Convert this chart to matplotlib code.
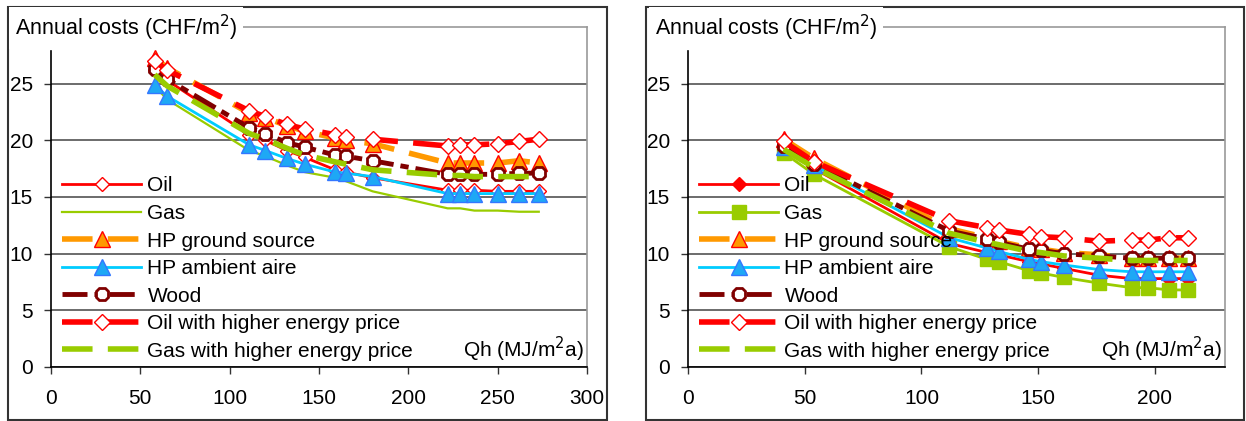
import matplotlib
matplotlib.use('Agg')
import matplotlib.pyplot as plt
from matplotlib.patches import Rectangle

plt.rcParams['font.family'] = ['Liberation Sans', 'DejaVu Sans']
plt.rcParams['font.size'] = 15
plt.rcParams['lines.scale_dashes'] = False

# left chart: existing buildings
qh_a = [58, 65, 111, 120, 132, 142, 159, 165, 180, 222, 229, 237, 250, 262, 273]
oil_a = [26.2, 25.3, 20.5, 20.0, 19.1, 18.5, 17.4, 17.2, 16.7, 15.6, 15.6, 15.6, 15.5, 15.5, 15.5]
gas_a = [24.8, 23.6, 19.1, 18.6, 17.8, 17.2, 16.7, 16.4, 15.5, 14.0, 14.0, 13.8, 13.8, 13.7, 13.7]
hp_ground_a = [27.3, 26.4, 22.4, 22.0, 21.3, 20.8, 20.2, 20.0, 19.7, 18.0, 18.0, 18.0, 18.0, 18.2, 18.0]
hp_air_a = [24.9, 23.9, 19.6, 19.1, 18.4, 17.9, 17.2, 17.1, 16.8, 15.3, 15.3, 15.3, 15.3, 15.3, 15.3]
wood_a = [26.3, 25.4, 21.1, 20.6, 19.8, 19.4, 18.7, 18.6, 18.2, 17.0, 17.0, 17.0, 17.0, 17.1, 17.1]
oil_high_a = [27.0, 26.2, 22.6, 22.1, 21.4, 21.0, 20.5, 20.3, 20.1, 19.5, 19.6, 19.6, 19.7, 19.9, 20.1]
gas_high_a = [25.8, 24.8, 20.6, 20.1, 19.3, 18.7, 18.1, 17.9, 17.4, 16.9, 16.9, 16.8, 16.8, 16.8, 16.8]

# right chart: new buildings
qh_b = [41, 54, 112, 128, 133, 146, 151, 161, 176, 190, 197, 206, 214]
oil_b = [19.3, 17.5, 10.9, 10.1, 9.9, 9.3, 9.1, 8.7, 8.1, 7.8, 7.8, 7.8, 7.8]
gas_b = [18.9, 17.0, 10.6, 9.5, 9.3, 8.5, 8.3, 7.9, 7.4, 7.0, 7.0, 6.8, 6.8]
hp_ground_b = [20.1, 18.4, 12.2, 11.4, 11.1, 10.5, 10.4, 10.1, 9.9, 9.6, 9.6, 9.6, 9.6]
hp_air_b = [19.4, 17.8, 11.4, 10.5, 10.2, 9.5, 9.3, 9.0, 8.6, 8.4, 8.4, 8.4, 8.4]
wood_b = [19.5, 17.9, 12.0, 11.3, 11.0, 10.4, 10.3, 10.0, 9.8, 9.6, 9.6, 9.6, 9.6]
oil_high_b = [19.9, 18.1, 12.9, 12.3, 12.1, 11.7, 11.5, 11.4, 11.1, 11.2, 11.2, 11.4, 11.4]
gas_high_b = [19.2, 17.6, 11.8, 11.0, 10.8, 10.2, 10.1, 9.8, 9.6, 9.4, 9.4, 9.4, 9.4]

labels = ['Oil', 'Gas', 'HP ground source', 'HP ambient aire', 'Wood',
          'Oil with higher energy price', 'Gas with higher energy price']

RED = '#FF0000'
GREEN = '#99CC00'
ORANGE = '#FF9900'
CYAN = '#00CCFF'
BROWN = '#800000'

W, H = 1246, 421


def px_rect(x0, y0, x1, y1):
    # pixel box (top-left origin) -> figure fraction
    return [x0 / W, 1 - y1 / H, (x1 - x0) / W, (y1 - y0) / H]


def draw_panel(fig, frame, area, xs, series, xmax, new):
    fig.add_artist(Rectangle((frame[0], frame[1]), frame[2], frame[3],
                             transform=fig.transFigure, fill=False,
                             ec='#333333', lw=1.5))
    ax = fig.add_axes(area)
    oil, gas, hpg, hpa, wood, oilh, gash = series

    if new:
        ax.plot(xs, oil, color=RED, lw=2, marker='D', ms=7, mfc=RED, mec=RED)
        ax.plot(xs, gas, color=GREEN, lw=2, marker='s', ms=10, mfc=GREEN, mec=GREEN)
    else:
        ax.plot(xs, oil, color=RED, lw=2, marker='D', ms=7, mfc='white', mec=RED, mew=1)
        ax.plot(xs, gas, color=GREEN, lw=1.6)
    ax.plot(xs, hpg, color=ORANGE, lw=4, dashes=(22, 11),
            marker='^', ms=12, mfc=ORANGE, mec=RED, mew=1)
    ax.plot(xs, hpa, color=CYAN, lw=2, marker='^', ms=12,
            mfc='#1EA8F5', mec='#3377FF', mew=1)
    ax.plot(xs, wood, color=BROWN, lw=3.5, dashes=(18, 5, 6, 5),
            marker='8', ms=10, mfc='white', mec=BROWN, mew=2)
    ax.plot(xs, oilh, color=RED, lw=4, dashes=(22, 11),
            marker='D', ms=8, mfc='white', mec=RED, mew=1)
    ax.plot(xs, gash, color=GREEN, lw=4, dashes=(22, 11))

    ax.set_xlim(0, xmax)
    ax.set_ylim(0, 30)
    ax.set_yticks(range(0, 26, 5))
    ax.set_xticks(range(0, xmax + 1, 50))
    ax.yaxis.grid(True, color='#444444', lw=1.1)
    ax.set_axisbelow(True)
    ax.tick_params(length=5, width=1, color='#333333', pad=8, labelsize=15)
    ax.tick_params(axis='x', pad=11)
    for side in ('top', 'right'):
        ax.spines[side].set_color('#999999')
        ax.spines[side].set_linewidth(1.2)
    ax.spines['left'].set_bounds(0, 27.9)
    ax.spines['left'].set_linewidth(1.2)
    ax.spines['bottom'].set_linewidth(1.2)

    ax.legend(labels, loc='upper left', bbox_to_anchor=(0.005, 0.585),
              frameon=False, numpoints=1, handlelength=3.8,
              handletextpad=0.3, labelspacing=0.41, fontsize=15,
              borderaxespad=0)
    ax.text(0.995, 0.053, 'Qh (MJ/m$^2$a)', transform=ax.transAxes,
            ha='right', va='center', fontsize=15)
    return ax


fig = plt.figure(figsize=(W / 100, H / 100), dpi=100)

draw_panel(fig, px_rect(8, 7, 607, 420), px_rect(51, 27, 587, 367),
           qh_a, [oil_a, gas_a, hp_ground_a, hp_air_a, wood_a, oil_high_a, gas_high_a],
           300, False)
draw_panel(fig, px_rect(646, 7, 1244, 420), px_rect(688, 27, 1225, 367),
           qh_b, [oil_b, gas_b, hp_ground_b, hp_air_b, wood_b, oil_high_b, gas_high_b],
           230, True)

for x0 in (15, 655):
    fig.text(x0 / W, 1 - 28 / H, 'Annual costs (CHF/m$^2$)', fontsize=15.5,
             ha='left', va='center',
             bbox=dict(fc='white', ec='none', pad=4))

fig.savefig('out.png', dpi=100)
